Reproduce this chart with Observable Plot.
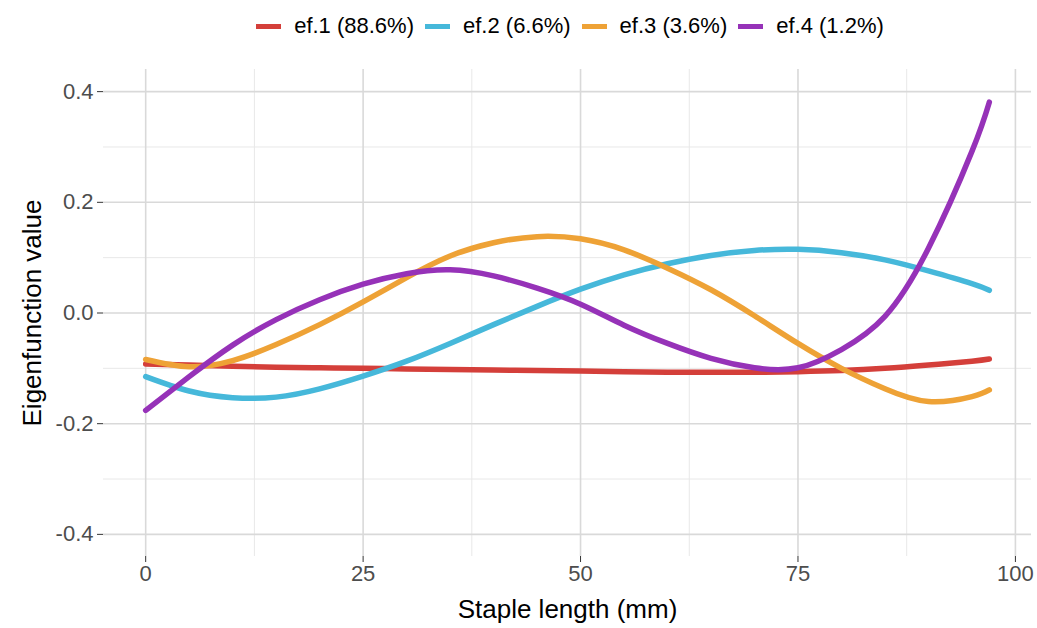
<!DOCTYPE html>
<html>
<head>
<meta charset="utf-8">
<script src="https://cdn.jsdelivr.net/npm/d3@7"></script>
<script src="https://cdn.jsdelivr.net/npm/@observablehq/plot@0.6"></script>
<style>
  html, body { margin: 0; padding: 0; background: #ffffff; }
  body { width: 1037px; height: 628px; overflow: hidden; font-family: "Liberation Sans", Arial, Helvetica, sans-serif; }
  #legend { height: 48px; padding-top: 2px; display: flex; justify-content: center; align-items: center; font-size: 22px; color: #000; padding-left: 103px; }
  .item { display: flex; align-items: center; margin-right: 11px; }
  .item:last-child { margin-right: 0; }
  .key { width: 25px; height: 5px; margin-right: 13px; }
  #chart svg { display: block; }
</style>
</head>
<body>
<div id="legend"></div>
<div id="chart"></div>
<script>
// ---- data ----
const stapleLength = [0, 5, 10, 15, 20, 25, 30, 35, 40, 45, 50, 55, 60, 65, 70, 75, 80, 85, 90, 95, 97];
const ef1 = [-0.092, -0.094, -0.096, -0.098, -0.099, -0.100, -0.101, -0.102, -0.103, -0.104, -0.105, -0.106, -0.107, -0.107, -0.107, -0.106, -0.104, -0.100, -0.094, -0.087, -0.083];
const ef2 = [-0.115, -0.141, -0.153, -0.152, -0.137, -0.114, -0.087, -0.055, -0.021, 0.012, 0.043, 0.069, 0.089, 0.104, 0.113, 0.115, 0.109, 0.096, 0.076, 0.053, 0.041];
const ef3 = [-0.084, -0.097, -0.086, -0.057, -0.021, 0.020, 0.064, 0.103, 0.127, 0.138, 0.134, 0.114, 0.081, 0.042, -0.005, -0.055, -0.100, -0.137, -0.160, -0.151, -0.139];
const ef4 = [-0.176, -0.115, -0.058, -0.012, 0.024, 0.052, 0.071, 0.078, 0.067, 0.045, 0.016, -0.022, -0.055, -0.082, -0.099, -0.099, -0.066, -0.006, 0.117, 0.292, 0.381];
const seriesNames = ["ef.1 (88.6%)", "ef.2 (6.6%)", "ef.3 (3.6%)", "ef.4 (1.2%)"];
const seriesColors = ["#d43f3a", "#46b8da", "#eea236", "#9632b8"];
const xTicks = [0, 25, 50, 75, 100];
const xMinor = [12.5, 37.5, 62.5, 87.5];
const yTicks = [-0.4, -0.2, 0.0, 0.2, 0.4];
const yMinor = [-0.3, -0.1, 0.1, 0.3];
const xTitle = "Staple length (mm)";
const yTitle = "Eigenfunction value";

// ---- tidy table ----
const seriesValues = [ef1, ef2, ef3, ef4];
const rows = [];
seriesValues.forEach((vals, i) => {
  vals.forEach((v, j) => rows.push({series: seriesNames[i], x: stapleLength[j], y: v}));
});

// ---- legend ----
const legend = document.getElementById("legend");
seriesNames.forEach((name, i) => {
  const item = document.createElement("div");
  item.className = "item";
  const key = document.createElement("span");
  key.className = "key";
  key.style.background = seriesColors[i];
  const label = document.createElement("span");
  label.textContent = name;
  item.appendChild(key);
  item.appendChild(label);
  legend.appendChild(item);
});

const font = "Liberation Sans, Arial, Helvetica, sans-serif";
const chart = Plot.plot({
  width: 1037,
  height: 578,
  marginTop: 19,
  marginBottom: 72,
  marginLeft: 103,
  marginRight: 6,
  style: {fontFamily: font, background: "#ffffff"},
  x: {domain: [-4.85, 101.85]},
  y: {domain: [-0.44, 0.44]},
  color: {domain: seriesNames, range: seriesColors},
  marks: [
    Plot.ruleY(yMinor, {stroke: "#e8e8e8", strokeWidth: 1}),
    Plot.ruleX(xMinor, {stroke: "#e8e8e8", strokeWidth: 1}),
    Plot.ruleY(yTicks, {stroke: "#d9d9d9", strokeWidth: 1.6}),
    Plot.ruleX(xTicks, {stroke: "#d9d9d9", strokeWidth: 1.6}),
    Plot.axisX({ticks: xTicks, tickSize: 6, tickPadding: 3, fontSize: 22, color: "#4d4d4d", stroke: "#333", label: null, tickFormat: d => String(d)}),
    Plot.axisY({ticks: yTicks, tickSize: 6, tickPadding: 4, fontSize: 22, color: "#4d4d4d", stroke: "#333", label: null, tickFormat: d => d.toFixed(1)}),
    Plot.line(rows, {x: "x", y: "y", stroke: "series", strokeWidth: 5.5, curve: "natural"}),
    Plot.text([xTitle], {text: d => d, frameAnchor: "bottom", textAnchor: "middle", lineAnchor: "bottom", dy: 61, fontSize: 26, fill: "#000"}),
    Plot.text([yTitle], {text: d => d, frameAnchor: "left", textAnchor: "middle", lineAnchor: "middle", dx: -71, rotate: -90, fontSize: 26, fill: "#000"})
  ]
});
document.getElementById("chart").appendChild(chart);
</script>
</body>
</html>
